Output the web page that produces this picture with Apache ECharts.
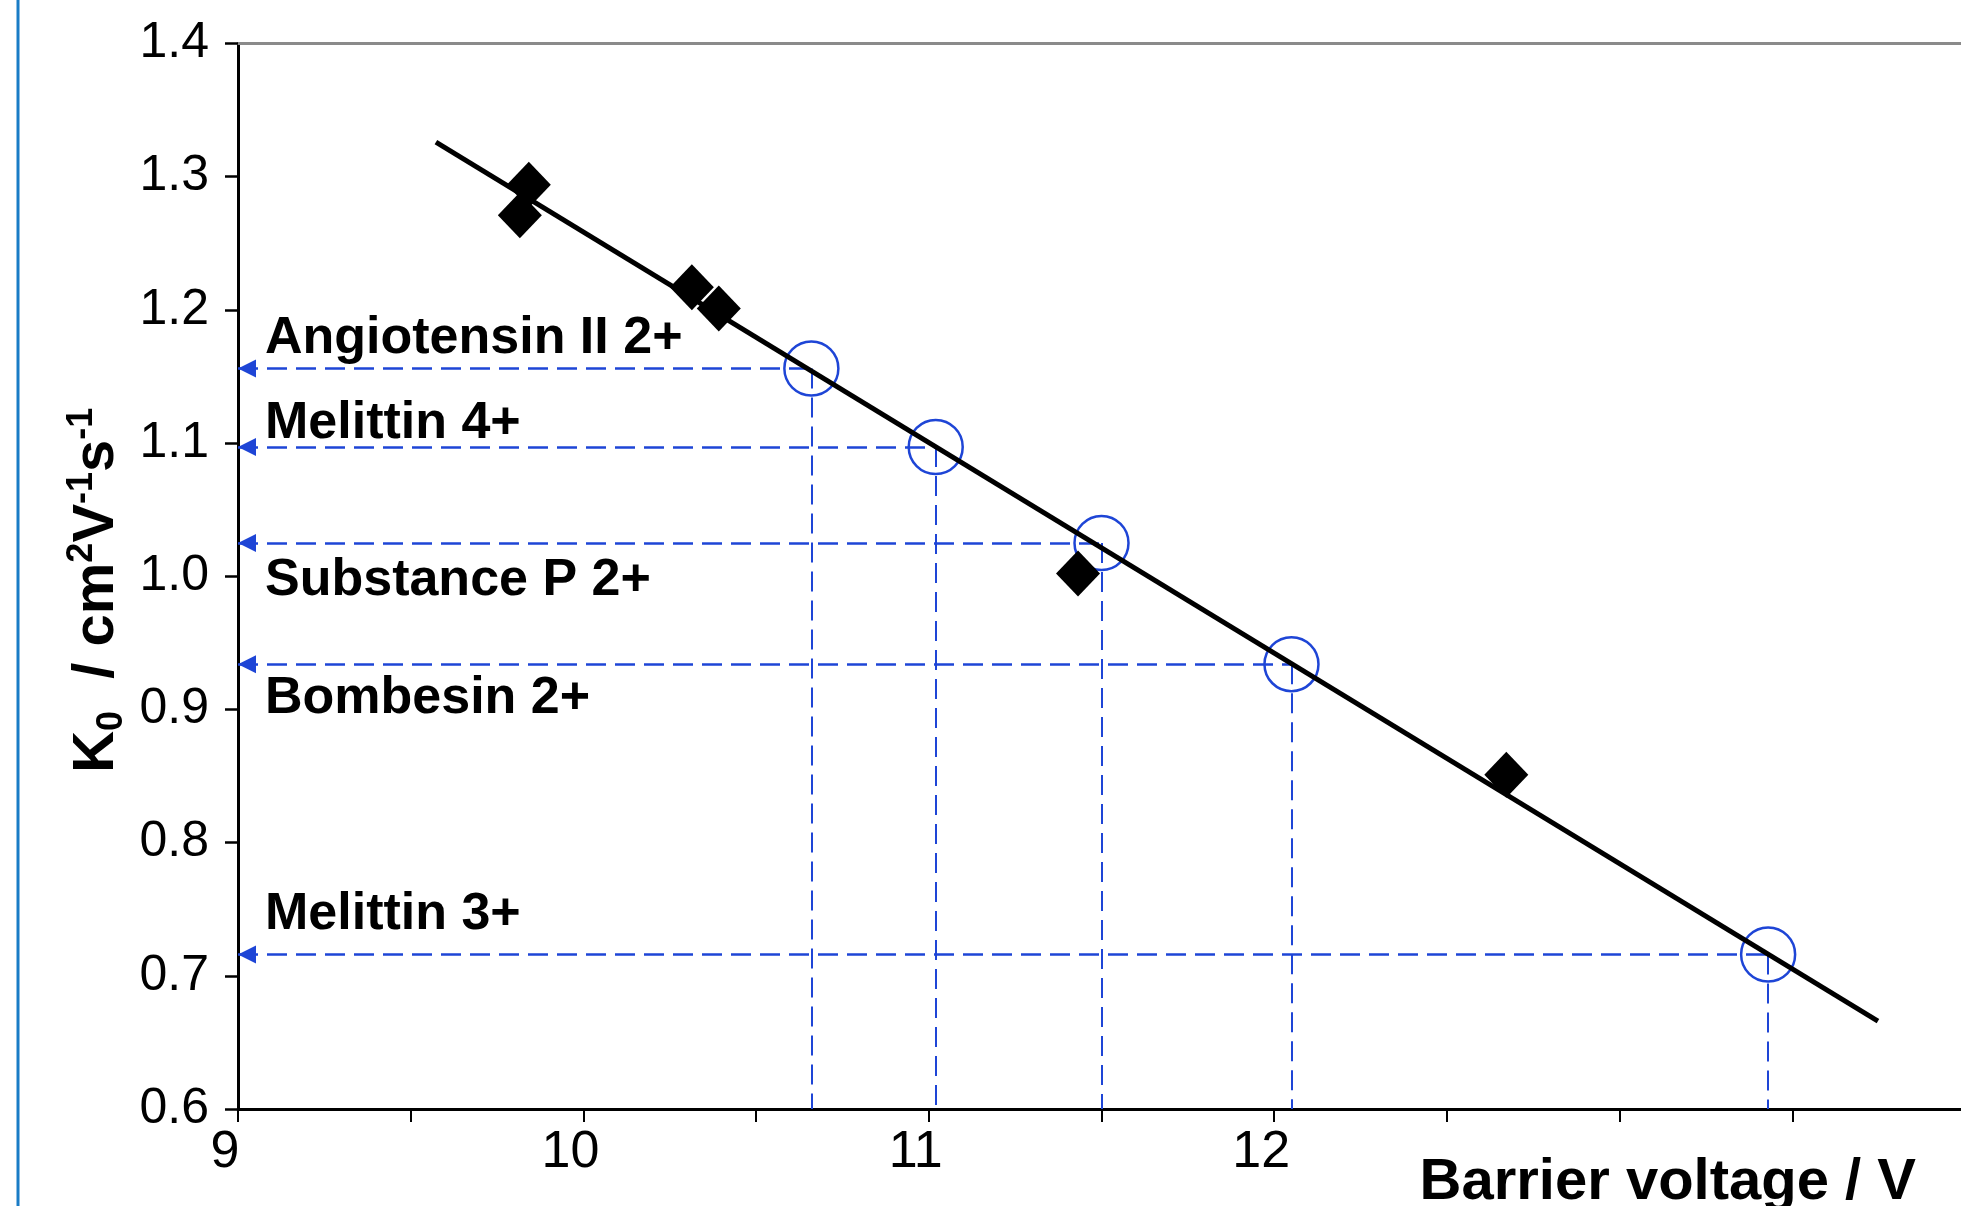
<!DOCTYPE html>
<html>
<head>
<meta charset="utf-8">
<title>K0 vs barrier voltage</title>
<script src="https://cdn.jsdelivr.net/npm/echarts@6/dist/echarts.min.js"></script>
<style>
	html, body { margin: 0; padding: 0; background: #fff; }
	#chart { width: 1961px; height: 1206px; }
</style>
</head>
<body>
<div id="chart"></div>
<script>
// calibrants (filled diamonds)
var calibX = [9.842, 9.816, 10.314, 10.392, 11.432, 12.672];
var calibY = [1.294, 1.271, 1.217, 1.201, 1.002, 0.851];
// peptides (open circles)
var peptideNames = ['Angiotensin II 2+', 'Melittin 4+', 'Substance P 2+', 'Bombesin 2+', 'Melittin 3+'];
var peptideX = [10.66, 11.02, 11.50, 12.05, 13.43];
var peptideY = [1.156, 1.097, 1.025, 0.934, 0.716];
// calibration line end points
var fitX = [9.573, 13.748];
var fitY = [1.326, 0.666];
// x values that carry a label
var xTickLabels = [9, 10, 11, 12];

var FONT = "'Liberation Sans', Arial, sans-serif";
var BLUE = '#1e45d6';
// label shift from its guide line (px)
var labelDy = [-30, -23, 38, 35, -40];

var myChart = echarts.init(document.getElementById('chart'));

// dashed guide lines: to the y axis (with arrow head) and down to the x axis
var guideLines = [];
peptideX.forEach(function(x, i) {
	var y = peptideY[i];
	guideLines.push([{ coord: [9, y], symbol: 'triangle' }, { coord: [x, y], symbol: 'none' }]);
	guideLines.push([{ coord: [x, y], symbol: 'none', lineStyle: { width: 2 } }, { coord: [x, 0.6], symbol: 'none' }]);
});

var option = {
	animation: false,
	backgroundColor: '#fff',
	grid: { left: 238, top: 43.5, width: 1727, height: 1065.5, outerBoundsMode: 'none' },
	graphic: [{
		type: 'line',
		shape: { x1: 18, y1: 0, x2: 18, y2: 1206 },
		style: { stroke: '#1a7cc6', lineWidth: 3 },
		silent: true
	}],
	xAxis: [{
		type: 'value', min: 9, max: 14, interval: 0.5,
		axisLine: { show: true, onZero: false, lineStyle: { color: '#000', width: 3 } },
		axisTick: { show: true, length: 13, lineStyle: { color: '#000', width: 2 } },
		axisLabel: {
			margin: 18, fontSize: 52, color: '#000', fontFamily: FONT, padding: [0, 26, 0, 0],
			formatter: function(v) { return xTickLabels.indexOf(v) >= 0 ? String(v) : ''; }
		},
		splitLine: { show: false },
		name: '{t|Barrier voltage / V}',
		nameLocation: 'end', nameGap: -49, nameMoveOverlap: false,
		nameTextStyle: {
			fontSize: 58, fontWeight: 'bold', color: '#000', fontFamily: FONT,
			align: 'right', verticalAlign: 'top',
			rich: {
				t: { fontSize: 58, fontWeight: 'bold', color: '#000', fontFamily: FONT, lineHeight: 58, padding: [89, 0, 0, 0] }
			}
		}
	}, {
		type: 'value', position: 'top', min: 9, max: 14,
		axisLine: { show: true, lineStyle: { color: '#8a8a8a', width: 3 } },
		axisTick: { show: false }, axisLabel: { show: false }, splitLine: { show: false }
	}],
	yAxis: {
		type: 'value', min: 0.6, max: 1.4, interval: 0.1,
		axisLine: { show: true, onZero: false, lineStyle: { color: '#000', width: 3 } },
		axisTick: { show: true, length: 13, lineStyle: { color: '#000', width: 2.5 } },
		axisLabel: {
			margin: 29, fontSize: 50, color: '#000', fontFamily: FONT,
			formatter: function(v) { return v.toFixed(1); }
		},
		splitLine: { show: false },
		name: '{main|K}{sub|0}{main|  / cm}{sup|2}{main|V}{sup|-1}{main|s}{sup|-1}',
		nameLocation: 'middle', nameGap: 108, nameRotate: 90, nameMoveOverlap: false,
		nameTextStyle: {
			fontFamily: FONT, fontWeight: 'bold', color: '#000', padding: [0, 28, 0, 0],
			rich: {
				main: { fontSize: 58, fontWeight: 'bold', fontFamily: FONT, color: '#000', lineHeight: 66 },
				sup: { fontSize: 36, fontWeight: 'bold', fontFamily: FONT, color: '#000', lineHeight: 36, verticalAlign: 'top' },
				sub: { fontSize: 36, fontWeight: 'bold', fontFamily: FONT, color: '#000', lineHeight: 36, verticalAlign: 'bottom' }
			}
		}
	},
	series: [{
		name: 'fit',
		type: 'line',
		data: fitX.map(function(x, i) { return [x, fitY[i]]; }),
		symbol: 'none',
		lineStyle: { color: '#000', width: 5, opacity: 1 },
		silent: true,
		z: 5
	}, {
		name: 'calibrants',
		type: 'scatter',
		data: calibX.map(function(x, i) { return [x, calibY[i]]; }),
		symbol: 'diamond',
		symbolSize: [44, 46],
		itemStyle: { color: '#000', opacity: 1 },
		z: 4
	}, {
		name: 'peptides',
		type: 'scatter',
		data: peptideX.map(function(x, i) { return [x, peptideY[i]]; }),
		symbol: 'circle',
		symbolSize: 54,
		itemStyle: { color: 'rgba(0,0,0,0)', borderColor: BLUE, borderWidth: 2.5, opacity: 1 },
		z: 3,
		markLine: {
			silent: true,
			animation: false,
			symbol: ['none', 'none'],
			symbolSize: [18, 18],
			symbolOffset: [[0, 9], [0, 0]],
			lineStyle: { type: [20, 9], color: BLUE, width: 2.5, opacity: 1 },
			label: { show: false },
			emphasis: { disabled: true },
			data: guideLines
		}
	}, {
		name: 'peptide labels',
		type: 'scatter',
		data: peptideY.map(function(y, i) {
			return { value: [9, y], label: { offset: [27, labelDy[i]] } };
		}),
		symbolSize: 0,
		silent: true,
		z: 6,
		itemStyle: { opacity: 1 },
		label: {
			show: true, position: 'right', distance: 0,
			fontSize: 52, fontWeight: 'bold', color: '#000', fontFamily: FONT, opacity: 1,
			formatter: function(p) { return peptideNames[p.dataIndex]; }
		}
	}]
};
myChart.setOption(option);
</script>
</body>
</html>
